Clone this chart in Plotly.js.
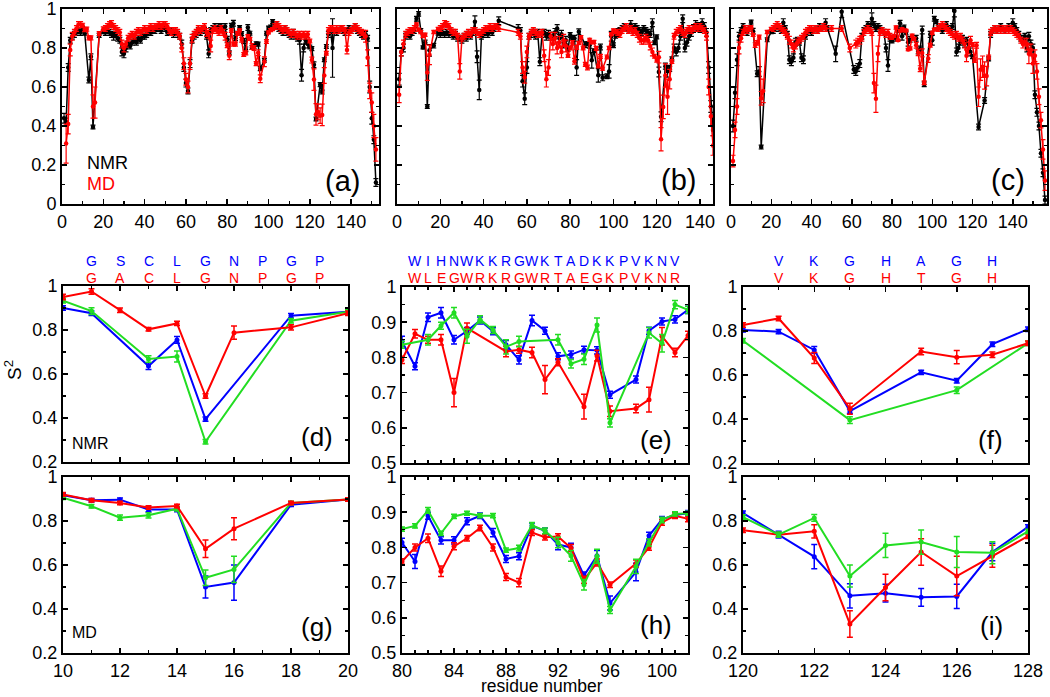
<!DOCTYPE html>
<html><head><meta charset="utf-8">
<script src="https://cdn.plot.ly/plotly-3.0.1.min.js"></script>
<style>html,body{margin:0;padding:0;background:#fff}#chart{width:1050px;height:697px}</style>
</head><body><div id="chart"></div>
<script>
// ---------------- DATA ----------------
// Top panels: S2 per residue (first residue = 1), NMR (black) and MD (red)
const aStart = 1;
const aNMR = [
.44,.42,.70,.84,.86,.87,.88,.89,.88,.90,
.876,null,.636,.755,.395,null,null,.865,null,.883,
.88,.89,.88,.87,.86,.87,.85,.84,.78,.77,
.80,.82,.81,.83,.84,.83,.85,.84,.86,.86,
.87,.88,.88,.89,.89,.90,.90,.89,.91,.90,
.88,.88,.89,.87,.88,.87,.86,.82,.70,.62,
.58,.72,.84,.86,.87,.89,.88,.90,.89,.86,
.77,.89,.90,.91,.90,.91,.91,.90,.91,.845,
.775,.914,.927,.85,.875,.905,.874,.836,.793,.905,
.876,.803,.808,.822,.82,.694,null,.737,.876,.902,
.908,.935,.91,.92,.90,.89,.88,.90,.88,.87,
.86,.88,.86,.85,.84,.66,.80,.84,.82,.805,
.797,.714,.436,null,.612,.574,.74,.808,.87,.89,
.80,.89,.88,.89,.90,.89,.88,.89,.90,.89,
.90,.91,.89,.88,.87,.86,.87,.85,.60,.44,
.33,.11];
const aNMRerr = [
.025,.02,.02,.015,.015,.015,.015,.015,.015,.01,
.01,null,.015,.015,.01,null,null,.01,null,.01,
.015,.015,.015,.015,.02,.015,.015,.015,.02,.02,
.02,.015,.015,.015,.015,.015,.015,.015,.015,.015,
.015,.015,.015,.015,.015,.015,.015,.015,.015,.015,
.015,.015,.015,.015,.015,.015,.015,.02,.02,.02,
.015,.02,.015,.015,.015,.015,.015,.015,.015,.015,
.02,.015,.015,.015,.015,.015,.015,.015,.015,.015,
.01,.012,.015,.012,.01,.01,.01,.012,.012,.015,
.01,.01,.01,.01,.01,.01,null,.01,.01,.01,
.01,.01,.015,.015,.015,.015,.015,.015,.015,.015,
.015,.015,.015,.015,.02,.03,.02,.015,.02,.01,
.01,.015,.01,null,.01,.01,.01,.01,.015,.015,
.15,.015,.015,.015,.015,.015,.015,.015,.015,.015,
.015,.015,.015,.015,.015,.015,.015,.015,.03,.03,
.02,.02];
const aMD = [
null,.31,.41,.79,.86,.88,.90,.92,.92,.917,
.894,.897,.852,.852,.50,.52,null,.874,null,.898,
.90,.91,.92,.925,.91,.90,.89,.88,.82,.80,
.82,.85,.86,.87,.86,.88,.89,.88,.89,.90,
.89,.90,.91,.90,.91,.91,.92,.91,.92,.92,
.91,.89,.88,.89,.89,.88,.86,.80,.72,.64,
.60,.72,.85,.87,.88,.90,.89,.90,.91,.88,
.87,.81,.89,.90,.89,.88,.90,.88,.86,.814,
.76,.89,.82,.82,.874,.89,.842,.767,.775,.861,
.847,.808,.80,.72,.776,.642,null,.73,.833,.88,
.892,.897,.91,.92,.91,.90,.89,.90,.89,.88,
.87,.88,.87,.86,.87,.86,.87,.86,.87,.836,
.738,.638,.46,.472,.453,.457,.659,.773,.89,.90,
.90,.89,.90,.89,.90,.90,.89,.79,.88,.89,
.90,.91,.90,.89,.88,.87,.86,.75,.58,.52,
.40,.28];
const aMDerr = [
null,.10,.05,.03,.02,.015,.015,.015,.015,.01,
.01,.01,.01,.01,.06,.08,null,.01,null,.01,
.015,.015,.015,.015,.015,.015,.015,.015,.02,.02,
.015,.015,.015,.015,.015,.015,.015,.015,.015,.015,
.015,.015,.015,.015,.015,.015,.015,.015,.015,.015,
.015,.015,.015,.015,.015,.015,.015,.02,.03,.03,
.03,.03,.02,.015,.015,.015,.015,.015,.015,.02,
.02,.03,.015,.015,.015,.015,.015,.015,.02,.012,
.02,.01,.01,.01,.01,.008,.012,.01,.01,.008,
.008,.015,.012,.01,.015,.02,null,.025,.01,.008,
.008,.008,.015,.015,.015,.015,.015,.015,.015,.015,
.015,.015,.015,.015,.015,.015,.015,.015,.015,.01,
.015,.055,.055,.04,.04,.055,.04,.01,.015,.015,
.015,.015,.015,.015,.015,.015,.015,.02,.015,.015,
.015,.015,.015,.015,.015,.02,.03,.04,.04,.05,
.06,.06];

const bStart = 1;
const bNMR = [
.64,.78,.80,.86,.87,.86,.88,.89,.95,.975,
.89,.803,.83,.50,.788,null,.812,null,.876,.87,
.88,.87,.88,.87,.88,.86,.87,.85,.85,.84,
.86,.85,.87,.86,.88,.935,.755,.585,.86,.87,
.88,.87,.89,.88,.90,.91,.94,null,null,null,
null,null,null,null,null,.90,.89,.63,.54,.70,
.86,.87,.88,.86,.88,.73,.87,.88,.86,.87,
.86,.86,.88,.90,.85,.87,.82,.84,.793,.867,
.85,.85,.70,.883,null,null,.817,.822,.814,.737,
.786,null,.66,.805,.647,null,.655,.68,.86,.814,
.862,.88,.89,.90,.91,.90,.89,.92,.90,.91,
.90,.89,.88,.90,.89,.88,.87,.93,.827,.857,
.677,.447,null,.707,.681,.692,.744,.80,.78,.80,
.86,.95,.80,.83,.86,.88,.90,.92,.91,.90,
.93,.91,.88,.70,.50,.38];
const bNMRerr = [
.03,.02,.02,.015,.015,.015,.015,.015,.012,.012,
.01,.008,.01,.01,.03,null,.012,null,.01,.015,
.015,.015,.015,.015,.015,.015,.015,.015,.015,.015,
.015,.015,.015,.015,.015,.03,.03,.05,.015,.015,
.015,.015,.015,.015,.015,.015,.02,null,null,null,
null,null,null,null,null,.02,.015,.03,.03,.03,
.015,.015,.015,.015,.015,.02,.015,.015,.02,.02,
.02,.02,.02,.02,.02,.02,.02,.02,.01,.012,
.01,.015,.04,.015,null,null,.015,.01,.015,.04,
.01,null,.035,.015,.015,null,.012,.035,.025,.012,
.012,.02,.015,.015,.015,.015,.015,.02,.015,.015,
.015,.015,.015,.015,.015,.015,.015,.02,.01,.01,
.025,.025,null,.015,.03,.012,.01,.02,.02,.02,
.02,.02,.02,.02,.02,.02,.02,.02,.02,.02,
.02,.02,.02,.03,.03,.03];
const bMD = [
.56,.78,.82,.87,.88,.89,.89,.90,.921,.894,
.882,.861,.868,.674,.765,null,.882,null,.898,.90,
.91,.925,.92,.91,.89,.88,.88,.86,.68,.85,
.86,.87,.88,.87,.89,.89,.88,.87,.88,.89,
.90,.90,.91,.90,.91,.91,.90,null,null,null,
null,null,null,null,null,.88,.86,.70,.65,.78,
.86,.88,.89,.88,.87,.87,.88,.76,.64,.70,
.86,.82,.85,.80,.83,.78,.84,.81,.76,.80,
.826,.732,.803,.826,.855,.80,.716,.70,.842,.829,
.831,.798,.708,.757,.694,null,.754,.80,.871,.89,
.881,.88,.87,.89,.90,.91,.89,.90,.88,.89,
.87,.85,.84,.84,.85,.84,.81,.78,.758,.738,
.753,.332,.498,.659,.55,.64,.731,.86,.88,.89,
.90,.88,.87,.89,.90,.89,.90,.91,.90,.91,
.90,.89,.86,.60,.45,.30];
const bMDerr = [
.04,.02,.02,.015,.015,.015,.015,.015,.008,.008,
.008,.008,.008,.04,.05,null,.008,null,.008,.015,
.015,.015,.015,.015,.015,.015,.015,.015,.04,.015,
.015,.015,.015,.015,.015,.015,.015,.015,.015,.015,
.015,.015,.015,.015,.015,.015,.015,null,null,null,
null,null,null,null,null,.015,.015,.03,.03,.03,
.015,.015,.015,.015,.015,.015,.015,.03,.04,.04,
.02,.03,.03,.03,.03,.03,.03,.03,.008,.01,
.012,.015,.01,.008,.008,.01,.01,.012,.008,.008,
.008,.01,.01,.01,.008,null,.01,.008,.008,.008,
.008,.015,.015,.015,.015,.015,.015,.015,.015,.015,
.015,.02,.02,.02,.02,.02,.02,.02,.01,.01,
.03,.06,.06,.06,.09,.05,.01,.015,.015,.015,
.015,.015,.015,.015,.015,.015,.015,.015,.015,.015,
.015,.015,.02,.04,.05,.05];

const cStart = 1;
const cNMR = [
.40,.57,.74,.86,.89,.91,.89,.88,.90,.933,
.886,null,.668,.679,.292,null,null,.842,null,.883,
.89,.90,.91,.90,.89,.93,.90,.87,.74,.73,
.75,.83,.84,.83,.75,.74,.86,.88,.89,.88,
.89,.90,.89,.91,.90,.91,.93,.90,null,null,
null,.77,null,null,.986,null,null,null,null,null,
.69,.68,.70,.72,.86,.89,.90,.92,.91,.95,
.92,.90,.91,.90,.89,.88,.80,.71,.85,.836,
null,.85,.89,.927,.86,.908,.878,.83,.845,null,
null,.85,.782,.795,.892,.614,null,null,.87,.84,
.95,.935,.90,.91,.89,.90,.92,.90,.89,.91,
.99,.78,.80,.83,.85,.82,.84,.80,.78,.756,
null,null,.395,null,null,.531,null,.744,.87,.89,
.90,.89,.90,.91,.90,.89,.90,.91,.90,.93,
.91,.89,.87,.85,.84,.86,.80,.86,.82,.80,
.56,.47,.40,.26,.16,.02];
const cNMRerr = [
.03,.03,.03,.02,.015,.015,.015,.015,.015,.01,
.015,null,.015,.025,.01,null,null,.01,null,.01,
.015,.015,.015,.015,.015,.02,.015,.015,.02,.02,
.02,.02,.015,.015,.02,.02,.015,.015,.015,.015,
.015,.015,.015,.015,.015,.015,.02,.015,null,null,
null,.04,null,null,.03,null,null,null,null,null,
.02,.02,.02,.02,.015,.015,.015,.015,.015,.03,
.015,.015,.015,.015,.015,.015,.02,.03,.015,.01,
null,.015,.01,.015,.02,.01,.01,.02,.015,null,
null,.015,.012,.015,.02,.012,null,null,.015,.025,
.012,.01,.015,.015,.015,.015,.015,.015,.015,.015,
.03,.02,.02,.015,.015,.015,.015,.02,.02,.01,
null,null,.015,null,null,.015,null,.01,.015,.015,
.015,.015,.015,.015,.015,.015,.015,.015,.015,.02,
.015,.015,.015,.015,.015,.015,.02,.02,.02,.02,
.02,.02,.02,.02,.02,.02];
const cMD = [
.22,.38,.50,.80,.85,.88,.90,.89,.90,.906,
.867,.815,.826,.856,.542,.58,null,.882,null,.898,
.90,.91,.92,.91,.90,.89,.88,.86,.84,.82,
.80,.81,.83,.84,.85,.86,.88,.89,.90,.90,
.89,.90,.89,.90,.90,.91,.90,null,null,.90,
null,null,null,null,.90,null,null,null,.80,null,
null,.82,.83,.84,.85,.88,.89,.90,.89,.88,
.62,.54,.77,.88,.89,.88,.87,.88,.86,.852,
.861,.905,.84,.888,.897,.89,.89,.792,.798,.863,
.847,.814,.776,.694,.775,.622,null,.746,.814,.878,
.895,.897,.90,.91,.92,.91,.90,.89,.88,.87,
.86,.87,.85,.86,.84,.82,.76,.80,.84,.818,
.738,.814,.55,.689,.704,.659,.656,.753,.88,.89,
.90,.89,.90,.89,.90,.89,.90,.89,.90,.89,
.88,.87,.86,.84,.82,.83,.82,.77,.79,.72,
.76,.68,.55,.43,.28,.12];
const cMDerr = [
.03,.04,.04,.03,.02,.015,.015,.015,.015,.008,
.008,.012,.012,.01,.035,.06,null,.008,null,.008,
.015,.015,.015,.015,.015,.015,.015,.015,.02,.02,
.02,.015,.015,.015,.015,.015,.015,.015,.015,.015,
.015,.015,.015,.015,.015,.015,.015,null,null,.015,
null,null,null,null,.015,null,null,null,.02,null,
null,.02,.02,.02,.015,.015,.015,.015,.015,.015,
.05,.07,.04,.015,.015,.015,.015,.015,.015,.006,
.006,.008,.006,.006,.006,.006,.006,.006,.008,.008,
.008,.015,.015,.015,.02,.01,null,.02,.01,.008,
.006,.006,.015,.015,.015,.015,.015,.015,.015,.015,
.015,.015,.015,.015,.015,.02,.03,.03,.02,.01,
.012,.015,.05,.055,.055,.07,.05,.01,.015,.015,
.015,.015,.015,.015,.015,.015,.015,.015,.015,.015,
.015,.015,.015,.015,.02,.02,.03,.05,.03,.05,
.03,.04,.04,.04,.05,.05];

// Detail panels: residues 10-20 (d,g), 80-102 (e,h), 120-128 (f,i)
const dRes = [10,11,12,13,14,15,16,17,18,19,20];
const dNMRblue  = [.90,.876,null,.636,.755,.395,null,null,.865,null,.883];
const dNMRblueErr = [.01,.01,null,.015,.015,.01,null,null,.01,null,.01];
const dNMRred   = [.95,.975,.89,.803,.83,.50,.788,null,.812,null,.876];
const dNMRredErr = [.012,.012,.01,.008,.01,.01,.03,null,.012,null,.01];
const dNMRgreen = [.933,.886,null,.668,.679,.292,null,null,.842,null,.883];
const dNMRgreenErr = [.01,.015,null,.015,.025,.01,null,null,.01,null,.01];
const gMDblue  = [.917,.894,.897,.852,.852,.50,.52,null,.874,null,.898];
const gMDblueErr = [.008,.008,.008,.01,.01,.05,.08,null,.008,null,.008];
const gMDred   = [.921,.894,.882,.861,.868,.674,.765,null,.882,null,.898];
const gMDredErr = [.008,.008,.008,.008,.008,.04,.05,null,.008,null,.008];
const gMDgreen = [.906,.867,.815,.826,.856,.542,.58,null,.882,null,.898];
const gMDgreenErr = [.008,.008,.012,.012,.01,.035,.06,null,.008,null,.008];

const eRes = [80,81,82,83,84,85,86,87,88,89,90,91,92,93,94,95,96,97,98,99,100,101,102];
const eNMRblue = [.845,.775,.914,.927,.85,.875,.905,.874,.836,.793,.905,.876,.803,.808,.822,.82,.694,null,.737,.876,.902,.908,.935];
const eNMRblueErr = [.015,.01,.012,.015,.012,.01,.01,.01,.012,.012,.015,.01,.01,.01,.01,.01,.01,null,.01,.01,.01,.01,.01];
const eNMRred = [.793,.867,.85,.85,.70,.883,null,null,.817,.822,.814,.737,.786,null,.66,.805,.647,null,.655,.68,.86,.814,.862];
const eNMRredErr = [.01,.012,.01,.015,.04,.015,null,null,.015,.01,.015,.04,.01,null,.035,.015,.015,null,.012,.035,.025,.012,.012];
const eNMRgreen = [.836,null,.85,.89,.927,.86,.908,.878,.83,.845,null,null,.85,.782,.795,.892,.614,null,null,.87,.84,.95,.935];
const eNMRgreenErr = [.01,null,.015,.01,.015,.02,.01,.01,.02,.015,null,null,.015,.012,.015,.02,.012,null,null,.015,.025,.012,.01];
const hMDblue = [.814,.76,.89,.82,.82,.874,.89,.842,.767,.775,.861,.847,.808,.80,.72,.776,.642,null,.73,.833,.88,.892,.897];
const hMDblueErr = [.012,.02,.01,.01,.01,.01,.008,.012,.01,.01,.008,.008,.015,.012,.01,.015,.02,null,.025,.01,.008,.008,.008];
const hMDred = [.76,.80,.826,.732,.803,.826,.855,.80,.716,.70,.842,.829,.831,.798,.708,.757,.694,null,.754,.80,.871,.89,.881];
const hMDredErr = [.008,.01,.012,.015,.01,.008,.008,.01,.01,.012,.008,.008,.008,.01,.01,.01,.008,null,.01,.008,.008,.008,.008];
const hMDgreen = [.852,.861,.905,.84,.888,.897,.89,.89,.792,.798,.863,.847,.814,.776,.694,.775,.622,null,.746,.814,.878,.895,.897];
const hMDgreenErr = [.006,.006,.008,.006,.006,.006,.006,.006,.006,.008,.008,.008,.015,.015,.015,.02,.01,null,.02,.01,.008,.006,.006];

const fRes = [120,121,122,123,124,125,126,127,128];
const fNMRblue = [.805,.797,.714,.436,null,.612,.574,.74,.808];
const fNMRblueErr = [.01,.01,.015,.01,null,.01,.01,.01,.01];
const fNMRred = [.827,.857,.677,.447,null,.707,.681,.692,.744];
const fNMRredErr = [.01,.01,.025,.025,null,.015,.03,.012,.01];
const fNMRgreen = [.756,null,null,.395,null,null,.531,null,.744];
const fNMRgreenErr = [.01,null,null,.015,null,null,.015,null,.01];
const iMDblue = [.836,.738,.638,.46,.472,.453,.457,.659,.773];
const iMDblueErr = [.01,.015,.055,.055,.04,.04,.055,.04,.01];
const iMDred = [.758,.738,.753,.332,.498,.659,.55,.64,.731];
const iMDredErr = [.01,.01,.03,.06,.06,.06,.09,.05,.01];
const iMDgreen = [.818,.738,.814,.55,.689,.704,.659,.656,.753];
const iMDgreenErr = [.01,.012,.015,.05,.055,.055,.07,.05,.01];

// residue letters above the NMR detail panels
const dLetterRes = [11,12,13,14,15,16,17,18,19];
const dSeqBlue = ['G','S','C','L','G','N','P','G','P'];
const dSeqRed  = ['G','A','C','L','G','N','P','G','P'];
const eLetterRes = [81,82,83,84,85,86,87,88,89,90,91,92,93,94,95,96,97,98,99,100,101];
const eSeqBlue = ['W','I','H','N','W','K','K','R','G','W','K','T','A','D','K','K','P','V','K','N','V'];
const eSeqRed  = ['W','L','E','G','W','R','K','R','G','W','R','T','A','E','G','K','P','V','K','N','R'];
const fLetterRes = [121,122,123,124,125,126,127];
const fSeqBlue = ['V','K','G','H','A','G','H'];
const fSeqRed  = ['V','K','G','H','T','G','H'];

// ---------------- STYLE / LAYOUT ----------------
const W = 1050, H = 697;
const FONT = 'Liberation Sans, Arial, Helvetica, sans-serif';
const BLUE = '#0000ff', RED = '#ff0000', GREEN = '#22dd22', BLACK = '#000000';
const xd = (a,b) => [a/W, b/W];
const yd = (t,b) => [1-b/H, 1-t/H];

const panels = [
  {n:'',  x:[62,379],  y:[9,204],   xr:[0,153.5], yr:[0,1],   xdt:20, xmn:10, ydt:.2, ymn:.1, xl:true,  yl:true},
  {n:'2', x:[397,713], y:[9,204],   xr:[0,146],   yr:[0,1],   xdt:20, xmn:10, ydt:.2, ymn:.1, xl:true,  yl:false},
  {n:'3', x:[731,1047],y:[9,204],   xr:[0,157],   yr:[0,1],   xdt:20, xmn:10, ydt:.2, ymn:.1, xl:true,  yl:false},
  {n:'4', x:[63,348],  y:[286,462], xr:[10,20],   yr:[.2,1],  xdt:2,  xmn:1,  ydt:.2, ymn:.1, xl:false, yl:true},
  {n:'5', x:[402,688], y:[287,463], xr:[80,102],  yr:[.5,1],  xdt:4,  xmn:1,  ydt:.1, ymn:.05,xl:false, yl:true},
  {n:'6', x:[743,1028],y:[287,463], xr:[120,128], yr:[.2,1],  xdt:2,  xmn:1,  ydt:.2, ymn:.1, xl:false, yl:true},
  {n:'7', x:[63,348],  y:[477,653], xr:[10,20],   yr:[.2,1],  xdt:2,  xmn:1,  ydt:.2, ymn:.1, xl:true,  yl:true},
  {n:'8', x:[402,688], y:[477,653], xr:[80,102],  yr:[.5,1],  xdt:4,  xmn:1,  ydt:.1, ymn:.05,xl:true,  yl:true},
  {n:'9', x:[743,1028],y:[477,653], xr:[120,128], yr:[.2,1],  xdt:2,  xmn:1,  ydt:.2, ymn:.1, xl:true,  yl:true}
];

const layout = {
  width: W, height: H, margin:{l:0,r:0,t:0,b:0},
  paper_bgcolor:'#fff', plot_bgcolor:'#fff', showlegend:false,
  font:{family:FONT, color:BLACK}, annotations:[]
};
panels.forEach(p => {
  const common = {showline:true, linewidth:2, linecolor:BLACK, mirror:'allticks', ticks:'inside',
    ticklen:5, tickwidth:1.5, tickcolor:BLACK, showgrid:false, zeroline:false,
    ticklabeloverflow:'allow',
    tickfont:{family:FONT, size:18, color:BLACK}, fixedrange:true};
  layout['xaxis'+p.n] = Object.assign({}, common, {domain:xd(p.x[0],p.x[1]), range:p.xr,
    anchor:'y'+p.n, dtick:p.xdt, tick0:0, showticklabels:p.xl,
    minor:{dtick:p.xmn, ticks:'inside', ticklen:3, tickwidth:1.2, tickcolor:BLACK}});
  layout['yaxis'+p.n] = Object.assign({}, common, {domain:yd(p.y[0],p.y[1]), range:p.yr,
    anchor:'x'+p.n, dtick:p.ydt, tick0:0, showticklabels:p.yl,
    minor:{dtick:p.ymn, ticks:'inside', ticklen:3, tickwidth:1.2, tickcolor:BLACK}});
});

const traces = [];
function resFrom(start, arr){ return arr.map((_, i) => start + i); }
function topTrace(start, vals, errs, color, ax){
  traces.push({x:resFrom(start, vals), y:vals, xaxis:'x'+ax, yaxis:'y'+ax, type:'scatter',
    mode:'lines+markers', connectgaps:true, line:{color:color, width:1.5},
    marker:{color:color, size:4.5}, hoverinfo:'skip', cliponaxis:true,
    error_y:{type:'data', array:errs, visible:true, color:color, thickness:1.2, width:2.5}});
}
function detTrace(xs, vals, errs, color, ax){
  traces.push({x:xs, y:vals, xaxis:'x'+ax, yaxis:'y'+ax, type:'scatter',
    mode:'lines+markers', connectgaps:true, line:{color:color, width:2},
    marker:{color:color, size:5}, hoverinfo:'skip',
    error_y:{type:'data', array:errs, visible:true, color:color, thickness:1.5, width:3}});
}
topTrace(aStart, aNMR, aNMRerr, BLACK, '');
topTrace(aStart, aMD, aMDerr, RED, '');
topTrace(bStart, bNMR, bNMRerr, BLACK, '2');
topTrace(bStart, bMD, bMDerr, RED, '2');
topTrace(cStart, cNMR, cNMRerr, BLACK, '3');
topTrace(cStart, cMD, cMDerr, RED, '3');

detTrace(dRes, dNMRblue, dNMRblueErr, BLUE, '4');
detTrace(dRes, dNMRgreen, dNMRgreenErr, GREEN, '4');
detTrace(dRes, dNMRred, dNMRredErr, RED, '4');
detTrace(eRes, eNMRblue, eNMRblueErr, BLUE, '5');
detTrace(eRes, eNMRred, eNMRredErr, RED, '5');
detTrace(eRes, eNMRgreen, eNMRgreenErr, GREEN, '5');
detTrace(fRes, fNMRgreen, fNMRgreenErr, GREEN, '6');
detTrace(fRes, fNMRblue, fNMRblueErr, BLUE, '6');
detTrace(fRes, fNMRred, fNMRredErr, RED, '6');
detTrace(dRes, gMDblue, gMDblueErr, BLUE, '7');
detTrace(dRes, gMDgreen, gMDgreenErr, GREEN, '7');
detTrace(dRes, gMDred, gMDredErr, RED, '7');
detTrace(eRes, hMDblue, hMDblueErr, BLUE, '8');
detTrace(eRes, hMDred, hMDredErr, RED, '8');
detTrace(eRes, hMDgreen, hMDgreenErr, GREEN, '8');
detTrace(fRes, iMDblue, iMDblueErr, BLUE, '9');
detTrace(fRes, iMDred, iMDredErr, RED, '9');
detTrace(fRes, iMDgreen, iMDgreenErr, GREEN, '9');

// residue letters
const yBlueRow = 1 - 261/H, yRedRow = 1 - 277.5/H;
function letters(res, seq, color, ax, y){
  res.forEach((r, i) => layout.annotations.push({xref:'x'+ax, yref:'paper', x:r, y:y,
    text:seq[i], showarrow:false, xanchor:'center', yanchor:'middle',
    font:{family:FONT, size:14, color:color}}));
}
letters(dLetterRes, dSeqBlue, BLUE, '4', yBlueRow);
letters(dLetterRes, dSeqRed, RED, '4', yRedRow);
letters(eLetterRes, eSeqBlue, BLUE, '5', yBlueRow);
letters(eLetterRes, eSeqRed, RED, '5', yRedRow);
letters(fLetterRes, fSeqBlue, BLUE, '6', yBlueRow);
letters(fLetterRes, fSeqRed, RED, '6', yRedRow);

// panel labels
function txt(text, xpx, ypx, size, xa, color, angle, ya){
  layout.annotations.push({xref:'paper', yref:'paper', x:xpx/W, y:1-ypx/H, text:text,
    showarrow:false, xanchor:xa, yanchor:ya||'middle', textangle:angle||0, borderpad:0,
    font:{family:FONT, size:size, color:color||BLACK}});
}
txt('(a)', 361, 181, 29, 'right');
txt('(b)', 697, 180, 29, 'right');
txt('(c)', 1026, 180, 29, 'right');
txt('(d)', 334, 437, 26, 'right');
txt('(e)', 673, 440, 26, 'right');
txt('(f)', 1004, 440, 26, 'right');
txt('(g)', 334, 627, 26, 'right');
txt('(h)', 673, 625, 26, 'right');
txt('(i)', 1004, 626, 26, 'right');
txt('NMR', 86, 163, 18, 'left', BLACK);
txt('MD', 86, 184, 18, 'left', RED);
txt('NMR', 71, 444, 16, 'left', BLACK);
txt('MD', 71, 632, 16, 'left', BLACK);
txt('S<sup>2</sup>', 13, 370, 19, 'center', BLACK, -90);
txt('residue number', 542, 697, 17.5, 'center', BLACK, 0, 'bottom');

Plotly.newPlot('chart', traces, layout, {displayModeBar:false, staticPlot:true});
</script></body></html>
